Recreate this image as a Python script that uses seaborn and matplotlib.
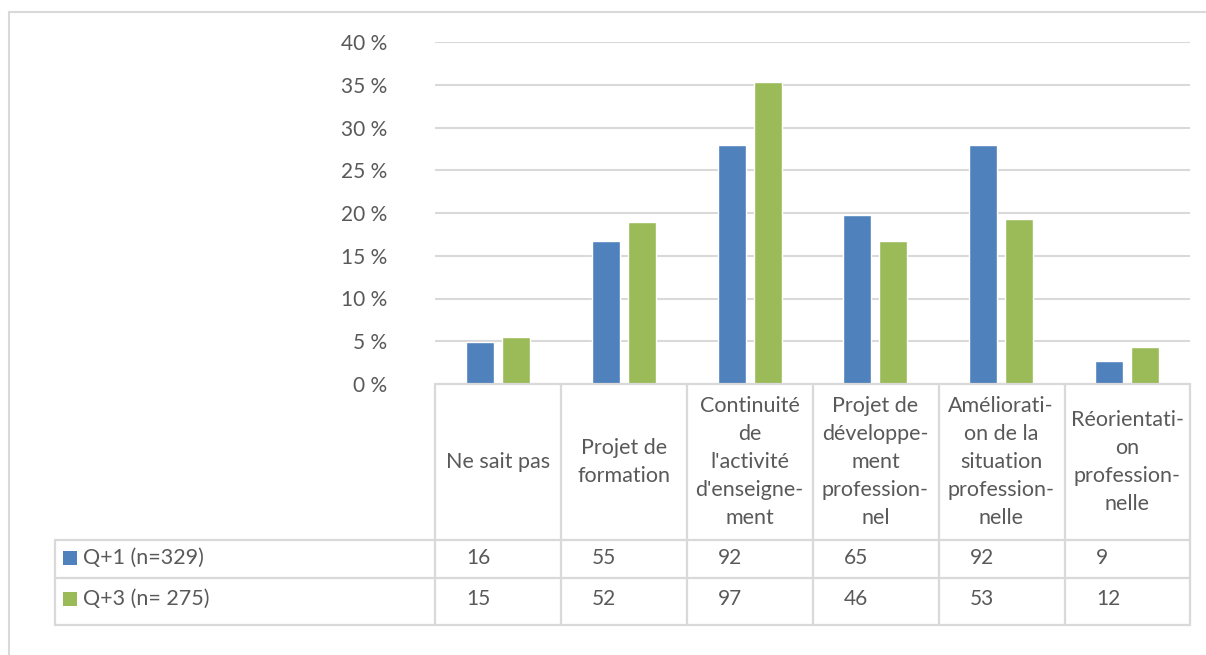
import matplotlib
matplotlib.use("Agg")
import matplotlib.pyplot as plt
import matplotlib.transforms as mtransforms
from matplotlib.lines import Line2D
from matplotlib.patches import Rectangle
import pandas as pd
import seaborn as sns

# --- data -------------------------------------------------------------
categories = [
    "Ne sait pas",
    "Projet de\nformation",
    "Continuité\nde\nl'activité\nd'enseigne-\nment",
    "Projet de\ndéveloppe-\nment\nprofession-\nnel",
    "Améliorati-\non de la\nsituation\nprofession-\nnelle",
    "Réorientati-\non\nprofession-\nnelle",
]
series_names = ["Q+1 (n=329)", "Q+3 (n= 275)"]
series_n = [329, 275]
counts_q1 = [16, 55, 92, 65, 92, 9]
counts_q3 = [15, 52, 97, 46, 53, 12]
y_ticks = [0, 5, 10, 15, 20, 25, 30, 35, 40]

BLUE = "#4F81BD"
GREEN = "#9BBB59"
GRID = "#D9D9D9"
TEXT = "#595959"
FONT = ["Lato", "DejaVu Sans"]

rows = []
for name, n, counts in zip(series_names, series_n, [counts_q1, counts_q3]):
    for cat, c in zip(categories, counts):
        rows.append({"category": cat, "series": name, "pct": c / n * 100})
df = pd.DataFrame(rows)

# --- figure -----------------------------------------------------------
W, H = 1206, 655
sns.set_style("white")
plt.rcParams["font.family"] = FONT
fig = plt.figure(figsize=(W / 100, H / 100), dpi=100)


def fx(px):
    return px / W


def fy(py):
    return 1 - py / H


ax_left, ax_right, ax_top, ax_bottom = 435, 1190, 42, 384
ax = fig.add_axes([fx(ax_left), fy(ax_bottom), fx(ax_right - ax_left), fy(ax_top) - fy(ax_bottom)])

sns.barplot(
    data=df, x="category", y="pct", hue="series",
    order=categories, hue_order=series_names,
    palette=[BLUE, GREEN], width=0.571, gap=0.222,
    saturation=1, legend=False, ax=ax, zorder=3,
)
ax.set_xlim(-0.5, len(categories) - 0.5)
ax.set_ylim(0, 40)
ax.set_yticks(y_ticks)
ax.set_yticklabels([f"{t} %" for t in y_ticks], color=TEXT, fontsize=15)
ax.tick_params(axis="y", length=0, pad=34.5)
ax.set_xticks([])
ax.set_xlabel("")
ax.set_ylabel("")
ax.grid(axis="y", color=GRID, linewidth=1.5, zorder=0)
for s in ax.spines.values():
    s.set_visible(False)
ax.set_facecolor("none")

# --- outer chart frame ------------------------------------------------
fig.patches.append(Rectangle((fx(9), fy(700)), fx(1300), fy(12) - fy(700),
                             transform=fig.transFigure, fill=False,
                             edgecolor=GRID, linewidth=1.5))

# --- data table grid --------------------------------------------------
col_edges = [435, 561, 687, 813, 939, 1065, 1190]
row_header_top, row1_top, row2_top, table_bottom = 384, 540, 578, 625
tab_left = 55


def hline(y, x0, x1):
    fig.add_artist(Line2D([fx(x0), fx(x1)], [fy(y), fy(y)], transform=fig.transFigure,
                          color=GRID, linewidth=1.6))


def vline(x, y0, y1):
    fig.add_artist(Line2D([fx(x), fx(x)], [fy(y0), fy(y1)], transform=fig.transFigure,
                          color=GRID, linewidth=1.6))


hline(row_header_top, col_edges[0], col_edges[-1])
for y in (row1_top, row2_top, table_bottom):
    hline(y, tab_left, col_edges[-1])
for x in col_edges:
    vline(x, row_header_top, table_bottom)
vline(tab_left, row1_top, table_bottom)

# category labels, centred in each column
blend = mtransforms.blended_transform_factory(ax.transData, fig.transFigure)
for i, cat in enumerate(categories):
    ax.text(i, fy((row_header_top + row1_top) / 2), cat, transform=blend,
            ha="center", va="center", color=TEXT, fontsize=15.5,
            linespacing=1.5, clip_on=False)

# series rows: legend key, name, counts
for (name, color, counts, yc) in [
    (series_names[0], BLUE, counts_q1, 558),
    (series_names[1], GREEN, counts_q3, 599),
]:
    fig.patches.append(Rectangle((fx(63), fy(yc + 7)), fx(14), fy(yc - 7) - fy(yc + 7),
                                 transform=fig.transFigure, facecolor=color,
                                 edgecolor="none"))
    fig.text(fx(83), fy(yc), name, ha="left", va="center", color=TEXT, fontsize=15.5)
    for i, c in enumerate(counts):
        fig.text(fx(col_edges[i] + 31), fy(yc), str(c), ha="left", va="center",
                 color=TEXT, fontsize=15)

fig.savefig("out.png", dpi=100, facecolor="white")
